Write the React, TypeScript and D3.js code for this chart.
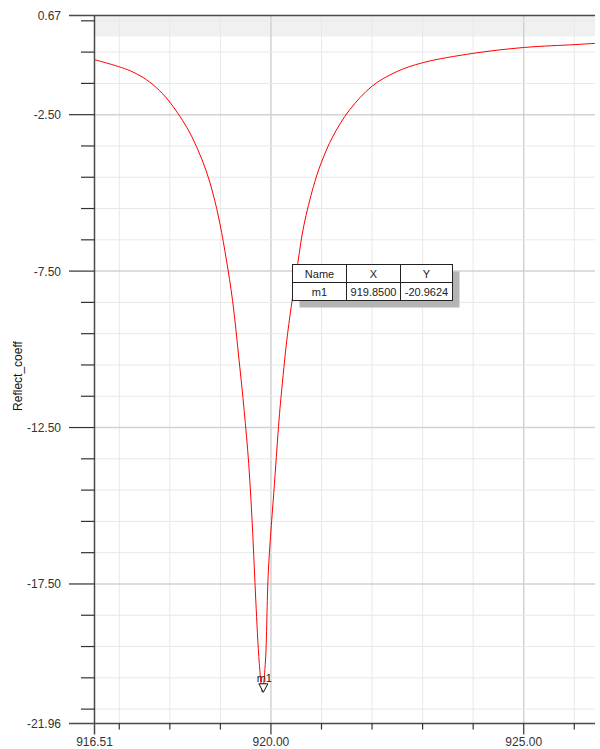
import React from "react";
import * as d3 from "d3";

// sweep (MHz, dB)
const freq = [916.51, 916.98, 917.22, 917.47, 917.73, 917.98, 918.33, 918.53, 918.72, 918.86, 918.99, 919.12, 919.24, 919.37, 919.47, 919.56, 919.64, 919.70, 919.77, 919.83, 919.89, 919.95, 920.07, 920.16, 920.20, 920.33, 920.53, 920.65, 920.84, 920.99, 921.22, 921.55, 922.00, 922.48, 923.00, 924.00, 925.02, 926.01, 926.41];
const refl = [-0.74, -0.96, -1.10, -1.31, -1.63, -2.06, -2.89, -3.53, -4.30, -5.06, -5.98, -7.15, -8.43, -10.35, -11.95, -13.65, -15.89, -18.02, -20.04, -20.96, -20.0, -17.06, -14.28, -12.26, -11.52, -9.49, -7.26, -6.05, -4.8, -4.06, -3.21, -2.36, -1.59, -1.13, -0.84, -0.54, -0.35, -0.26, -0.22];

const xLabels = [916.51, 920.0, 925.0];
const yLabels = [0.67, -2.5, -7.5, -12.5, -17.5, -21.96];
const xMinor = d3.range(917, 927, 1);
const yMinor = d3.range(0.5, -22, -1);

const markerName = "m1";
const markerX = 919.85;
const markerY = -20.9624;

const L = 94.5, R = 595, T = 15.5, B = 723.5;
const font = "Arial, 'Liberation Sans', sans-serif";

export default function App() {
  const x = d3.scaleLinear().domain([916.51, 926.41]).range([L, R]);
  const y = d3.scaleLinear().domain([0.67, -21.96]).range([T, B]);

  const pts = freq.map((f, i) => [f, refl[i]] as [number, number]);
  const path = d3
    .line<[number, number]>()
    .x((d) => x(d[0]))
    .y((d) => y(d[1]))
    .curve(d3.curveCatmullRom.alpha(0.5))(pts);

  const isMajorX = (v: number) => v % 5 === 0;
  const isMajorY = (v: number) => Math.abs((v + 2.5) % 5) < 1e-6;

  const mx = x(markerX);
  const my = y(markerY);

  // marker table
  const tx = 292.5, ty = 264.5;
  const cols = [0, 54, 108, 160];
  const rowH = 18;

  return (
    <svg width={600} height={749} style={{ position: "absolute", left: 0, top: 0 }} fontFamily={font}>
      <rect x={0} y={0} width={600} height={749} fill="#fff" />
      {/* band above 0 dB */}
      <rect x={L} y={T} width={R - L} height={y(0) - T} fill="#f0f0f0" />

      {/* grid */}
      {xMinor.map((v) => (
        <line key={"gx" + v} x1={x(v)} x2={x(v)} y1={T} y2={B}
          stroke={isMajorX(v) ? "#d2d2d2" : "#e8e8e8"} strokeWidth={isMajorX(v) ? 1.5 : 1} />
      ))}
      {yMinor.map((v) => (
        <line key={"gy" + v} x1={L} x2={R} y1={y(v)} y2={y(v)}
          stroke={isMajorY(v) ? "#d2d2d2" : "#e8e8e8"} strokeWidth={isMajorY(v) ? 1.5 : 1} />
      ))}

      {/* curve */}
      <path d={path ?? ""} fill="none" stroke="#ff0000" strokeWidth={1} />

      {/* axes */}
      <line x1={L} x2={L} y1={T} y2={B + 11} stroke="#4a4a4a" strokeWidth={1.5} />
      <line x1={69} x2={R} y1={B} y2={B} stroke="#4a4a4a" strokeWidth={1.5} />
      <line x1={69} x2={R} y1={T} y2={T} stroke="#4a4a4a" strokeWidth={1.5} />
      {yMinor.map((v) => (
        <line key={"ty" + v} x1={isMajorY(v) ? 69 : 81} x2={L} y1={y(v)} y2={y(v)} stroke="#333" strokeWidth={1.2} />
      ))}
      {xMinor.map((v) => (
        <line key={"tx" + v} x1={x(v)} x2={x(v)} y1={B} y2={B + (isMajorX(v) ? 11 : 6)} stroke="#333" strokeWidth={1.2} />
      ))}

      {/* tick labels */}
      {yLabels.map((v) => (
        <text key={"ly" + v} x={61} y={y(v) + 4.5} textAnchor="end" fontSize={12} fill="#333">
          {v.toFixed(2)}
        </text>
      ))}
      {xLabels.map((v) => (
        <text key={"lx" + v} x={x(v)} y={746} textAnchor="middle" fontSize={12} fill="#333">
          {v.toFixed(2)}
        </text>
      ))}

      <text transform="translate(22,376) rotate(-90)" textAnchor="middle" fontSize={12} fill="#111">
        Reflect_coeff
      </text>

      {/* marker */}
      <path d={`M${mx - 4.5},${my - 8.5} L${mx + 4.5},${my - 8.5} L${mx},${my} Z`} fill="#fff" stroke="#111" strokeWidth={1} />
      <text x={mx + 1} y={my - 10} textAnchor="middle" fontSize={11} fill="#222">
        {markerName}
      </text>

      {/* table */}
      <rect x={tx + 7} y={ty + 7} width={cols[3]} height={rowH * 2} fill="#b4b4b4" />
      <rect x={tx} y={ty} width={cols[3]} height={rowH * 2} fill="#fff" stroke="#222" strokeWidth={1} />
      <line x1={tx} x2={tx + cols[3]} y1={ty + rowH} y2={ty + rowH} stroke="#222" />
      {cols.slice(1, 3).map((c) => (
        <line key={"c" + c} x1={tx + c} x2={tx + c} y1={ty} y2={ty + rowH * 2} stroke="#222" />
      ))}
      {["Name", "X", "Y"].map((h, i) => (
        <text key={h} x={tx + (cols[i] + cols[i + 1]) / 2} y={ty + 13} textAnchor="middle" fontSize={11} fill="#222">
          {h}
        </text>
      ))}
      {[markerName, markerX.toFixed(4), markerY.toFixed(4)].map((s, i) => (
        <text key={"r" + i} x={tx + (cols[i] + cols[i + 1]) / 2} y={ty + rowH + 13} textAnchor="middle" fontSize={11} fill="#222">
          {s}
        </text>
      ))}
    </svg>
  );
}
